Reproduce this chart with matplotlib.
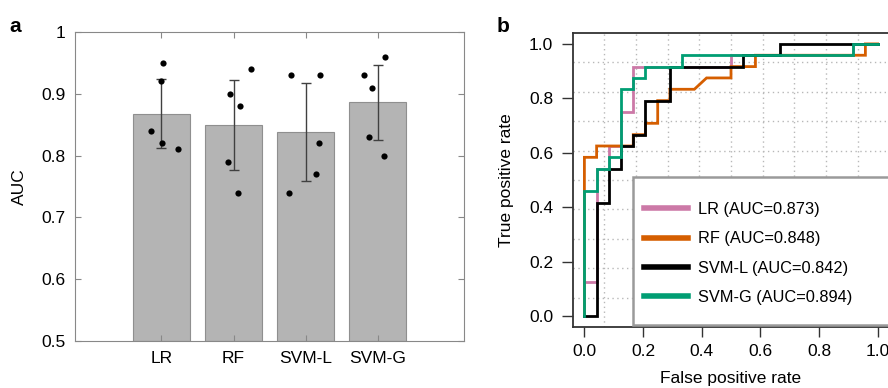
import matplotlib.pyplot as plt
from matplotlib.patches import Rectangle

plt.rcParams['font.family'] = ['Liberation Sans', 'DejaVu Sans']

# panel a: mean AUC per model, error bar ends and the five fold values
models = ['LR', 'RF', 'SVM-L', 'SVM-G']
auc_mean = [0.868, 0.850, 0.838, 0.886]
err_low = [0.812, 0.776, 0.759, 0.825]
err_high = [0.924, 0.923, 0.917, 0.947]
fold_auc = [
    [0.84, 0.95, 0.92, 0.82, 0.81],
    [0.90, 0.88, 0.94, 0.79, 0.74],
    [0.93, 0.93, 0.82, 0.77, 0.74],
    [0.93, 0.91, 0.96, 0.83, 0.80],
]
fold_jitter = [
    [-0.14, 0.02, -0.005, 0.005, 0.225],
    [-0.055, 0.09, 0.24, -0.07, 0.057],
    [-0.20, 0.20, 0.19, 0.145, -0.235],
    [-0.185, -0.083, 0.106, -0.12, 0.088],
]

# panel b: ROC vertices as counts out of 24 negatives / 24 positives
n_neg = 24
n_pos = 24
lr_fp = [0, 0, 1, 1, 2, 2, 3, 3, 4, 4, 12, 12, 22, 22, 24]
lr_tp = [0, 3, 3, 13, 13, 15, 15, 18, 18, 22, 22, 23, 23, 24, 24]
rf_fp = [0, 0, 1, 1, 4, 4, 5, 5, 6, 6, 7, 7, 9, 10, 12, 12, 14, 14, 23, 23, 24]
rf_tp = [0, 14, 14, 15, 15, 16, 16, 17, 17, 19, 19, 20, 20, 21, 21, 22, 22, 23, 23, 24, 24]
svml_fp = [0, 1, 1, 2, 2, 3, 3, 4, 4, 5, 5, 7, 7, 13, 13, 16, 16, 24]
svml_tp = [0, 0, 10, 10, 13, 13, 15, 15, 16, 16, 19, 19, 22, 22, 23, 23, 24, 24]
svmg_fp = [0, 0, 1, 1, 2, 2, 3, 3, 4, 4, 5, 5, 8, 8, 22, 22, 24]
svmg_tp = [0, 11, 11, 13, 13, 14, 14, 20, 20, 21, 21, 22, 22, 23, 23, 24, 24]
roc_labels = ['LR (AUC=0.873)', 'RF (AUC=0.848)', 'SVM-L (AUC=0.842)', 'SVM-G (AUC=0.894)']
roc_colors = ['#CC79A7', '#D55E00', '#000000', '#009E73']

fig = plt.figure(figsize=(8.88, 3.88), dpi=100)

# ---- panel a
ax = fig.add_axes([0.0845, 0.1211, 0.4381, 0.7964])
xs = list(range(1, len(models) + 1))
ax.bar(xs, [m - 0.5 for m in auc_mean], bottom=0.5, width=0.8,
       color='#b4b4b4', edgecolor='#8f8f8f', linewidth=0.8, zorder=1)
ax.errorbar(xs, auc_mean,
            yerr=[[m - lo for m, lo in zip(auc_mean, err_low)],
                  [hi - m for m, hi in zip(auc_mean, err_high)]],
            fmt='none', ecolor='#404040', elinewidth=1.0, capsize=3.5, capthick=1.0, zorder=2)
for x, vals, jit in zip(xs, fold_auc, fold_jitter):
    ax.scatter([x + j for j in jit], vals, s=20, color='black', zorder=3, linewidths=0)
ax.set_xlim(-0.2, 5.2)
ax.set_ylim(0.5, 1.0)
ax.set_xticks(xs)
ax.set_xticklabels(models)
ax.set_yticks([0.5, 0.6, 0.7, 0.8, 0.9, 1.0])
ax.set_yticklabels(['0.5', '0.6', '0.7', '0.8', '0.9', '1'])
ax.tick_params(direction='in', length=4, width=0.8, color='#888888', labelsize=12.5,
               top=True, right=True, pad=7)
for s in ax.spines.values():
    s.set_color('#888888')
    s.set_linewidth(0.8)
ax.set_ylabel('AUC', fontsize=12.5, labelpad=10)
fig.text(0.011, 0.918, 'a', fontsize=15, fontweight='bold')

# ---- panel b
bx = fig.add_axes([0.6449, 0.1572, 0.3566, 0.7577])
bx.set_xlim(-0.04, 1.04)
bx.set_ylim(-0.04, 1.04)
for k in range(1, 10):
    g = -0.04 + k * 0.108
    bx.axvline(g, color='#b8b8b8', linestyle=(0, (1, 2.5)), linewidth=1.0, zorder=0)
    bx.axhline(g, color='#b8b8b8', linestyle=(0, (1, 2.5)), linewidth=1.0, zorder=0)

curves = [(lr_fp, lr_tp), (rf_fp, rf_tp), (svml_fp, svml_tp), (svmg_fp, svmg_tp)]
handles = []
for (fp, tp), lab, col in zip(curves, roc_labels, roc_colors):
    bx.plot([f / n_neg for f in fp], [t / n_pos for t in tp], color=col, linewidth=2.0,
            solid_joinstyle='miter', zorder=3)
    h, = bx.plot([], [], color=col, linewidth=4.0, label=lab)
    handles.append(h)

bx.add_patch(Rectangle((0.189, 0.007), 1.0, 0.504, transform=bx.transAxes,
                       facecolor='white', edgecolor='#9a9a9a', linewidth=1.8,
                       clip_on=False, zorder=4))
leg = bx.legend(handles=handles, loc='center left', bbox_to_anchor=(0.205, 0.25),
                frameon=False, fontsize=11.8, handlelength=2.7, handletextpad=0.6,
                labelspacing=0.88, borderaxespad=0)
leg.set_zorder(5)

bx.set_xticks([0, 0.2, 0.4, 0.6, 0.8, 1.0])
bx.set_yticks([0, 0.2, 0.4, 0.6, 0.8, 1.0])
bx.set_xticklabels(['0.0', '0.2', '0.4', '0.6', '0.8', '1.0'])
bx.set_yticklabels(['0.0', '0.2', '0.4', '0.6', '0.8', '1.0'])
bx.tick_params(axis='x', direction='out', length=7, width=1.0, color='#333333', labelsize=12.5, pad=5)
bx.tick_params(axis='y', direction='out', length=8, width=1.0, color='#333333', labelsize=12.5, pad=6)
for s in bx.spines.values():
    s.set_color('#333333')
    s.set_linewidth(1.3)
bx.set_xlabel('False positive rate', fontsize=12.5, labelpad=9)
bx.set_ylabel('True positive rate', fontsize=12.5, labelpad=11)
fig.text(0.559, 0.918, 'b', fontsize=15, fontweight='bold')

fig.savefig('out.png', dpi=100)
